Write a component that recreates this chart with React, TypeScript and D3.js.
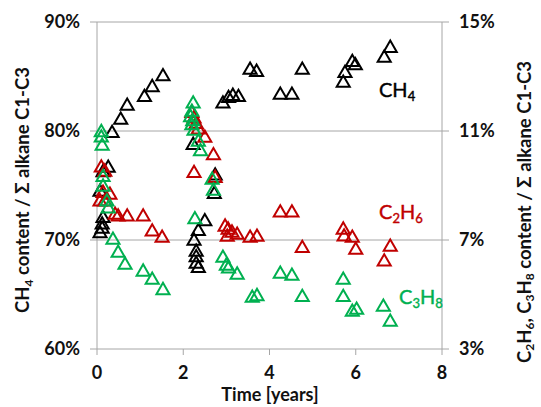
import React from "react";
import * as d3 from "d3";

// Time [years] and values (CH4 in % of left axis, C2H6/C3H8 in % of right axis)
const ch4Years = [0.26, 0.14, 0.07, 0.14, 0.12, 0.12, 0.07, 0.35, 0.55, 0.7, 1.1, 1.28, 1.53,
  2.23, 2.74, 2.72, 2.5, 2.35, 2.25, 2.3, 2.3, 2.3, 2.35,
  2.92, 3.05, 3.15, 3.28, 3.55, 3.7, 4.25, 4.52, 4.76, 5.71, 5.75, 5.92, 5.99, 6.66, 6.8];
const ch4Values = [76.6, 76.2, 74.4, 72.0, 71.4, 71.0, 70.6, 79.8, 81.0, 82.3, 83.1, 84.0, 85.0,
  78.7, 75.9, 74.2, 71.7, 70.8, 69.9, 68.9, 68.4, 67.8, 67.4,
  82.5, 83.0, 83.2, 83.1, 85.6, 85.4, 83.3, 83.3, 85.6, 84.4, 85.3, 86.3, 86.0, 86.7, 87.6];

const c2h6Years = [0.1, 0.18, 0.14, 0.3, 0.07, 0.18, 0.42, 0.49, 0.7, 1.07, 1.28, 1.51,
  2.2, 2.25, 2.3, 2.35, 2.5, 2.7, 2.25, 2.74,
  2.97, 3.04, 3.02, 3.13, 3.25, 3.55, 3.71, 4.25, 4.52, 4.76, 5.71, 5.73, 5.92, 6.0, 6.8, 6.66];
const c2h6Values = [9.65, 9.5, 8.72, 8.65, 8.4, 8.4, 7.92, 7.85, 7.85, 7.85, 7.3, 7.07,
  11.65, 11.45, 11.25, 11.05, 10.74, 10.1, 9.45, 9.27,
  7.48, 7.37, 7.11, 7.26, 7.18, 7.07, 7.11, 8.0, 8.0, 6.7, 7.37, 7.12, 7.07, 6.63, 6.74, 6.2];

const c3h8Years = [0.1, 0.1, 0.12, 0.14, 0.14, 0.23, 0.26, 0.37, 0.49, 0.65, 1.07, 1.28, 1.53,
  2.23, 2.2, 2.17, 2.22, 2.2, 2.25, 2.35, 2.4, 2.67, 2.7, 2.27,
  2.92, 3.0, 3.05, 3.25, 3.6, 3.71, 4.25, 4.52, 4.76, 5.71, 5.71, 5.92, 6.02, 6.64, 6.8];
const c3h8Values = [10.95, 10.75, 10.45, 9.3, 8.95, 8.4, 8.15, 7.0, 6.52, 6.08, 5.83, 5.53, 5.15,
  12.0, 11.7, 11.5, 11.35, 11.2, 11.0, 10.6, 10.25, 9.2, 8.8, 7.75,
  6.34, 6.05, 5.95, 5.72, 4.87, 4.93, 5.75, 5.68, 4.9, 5.53, 4.9, 4.36, 4.43, 4.54, 3.99];

const xTicks = [0, 2, 4, 6, 8];
const leftTicks = [60, 70, 80, 90];
const rightTicks = [3, 7, 11, 15];

const FONT = "Lato, 'Open Sans', sans-serif";

export default function App() {
  const L = 97, R = 442, T = 22, B = 349;
  const x = d3.scaleLinear().domain([0, 8]).range([L, R]);
  const yL = d3.scaleLinear().domain([60, 90]).range([B, T]);
  const yR = d3.scaleLinear().domain([3, 15]).range([B, T]);
  const tri = d3.symbol().type(d3.symbolTriangle).size(74)() as string;
  const axisColor = "#A6A6A6";
  const textColor = "#111111";

  const series = [
    { xs: ch4Years, ys: ch4Values, sc: yL, color: "#000000" },
    { xs: c2h6Years, ys: c2h6Values, sc: yR, color: "#C00000" },
    { xs: c3h8Years, ys: c3h8Values, sc: yR, color: "#00B050" },
  ];

  return (
    <svg width={541} height={407} style={{ position: "absolute", left: 0, top: 0, background: "#fff" }}
      fontFamily={FONT}>
      {/* gridlines */}
      {leftTicks.map((t) => (
        <line key={"g" + t} x1={L} x2={R} y1={yL(t)} y2={yL(t)} stroke={axisColor} strokeWidth={1} />
      ))}
      {/* axis lines */}
      <line x1={L} x2={L} y1={T} y2={B} stroke={axisColor} />
      <line x1={R} x2={R} y1={T} y2={B} stroke={axisColor} />
      {leftTicks.map((t) => (
        <line key={"lt" + t} x1={L - 7} x2={L} y1={yL(t)} y2={yL(t)} stroke={axisColor} />
      ))}
      {rightTicks.map((t) => (
        <line key={"rt" + t} x1={R} x2={R + 7} y1={yR(t)} y2={yR(t)} stroke={axisColor} />
      ))}
      {xTicks.map((t) => (
        <line key={"xt" + t} x1={x(t)} x2={x(t)} y1={B} y2={B + 6} stroke={axisColor} />
      ))}
      {/* tick labels */}
      {leftTicks.map((t) => (
        <text key={"ll" + t} x={80} y={yL(t)} dy="0.36em" textAnchor="end" fontSize={18} fontWeight="bold" fill={textColor}>{t}%</text>
      ))}
      {rightTicks.map((t) => (
        <text key={"rl" + t} x={459} y={yR(t)} dy="0.36em" textAnchor="start" fontSize={18} fontWeight="bold" fill={textColor}>{t}%</text>
      ))}
      {xTicks.map((t) => (
        <text key={"xl" + t} x={x(t)} y={379} textAnchor="middle" fontSize={18} fontWeight="bold" fill={textColor}>{t}</text>
      ))}
      <text x={270} y={401} textAnchor="middle" fontSize={18} fontWeight="bold" fill={textColor}>Time [years]</text>
      {/* axis titles */}
      <text transform="translate(29,190) rotate(-90)" textAnchor="middle" fontSize={18.5} fontWeight="bold" fill={textColor}>
        CH<tspan fontSize={12} dy={4}>4</tspan><tspan dy={-4}> content / Σ alkane C1-C3</tspan>
      </text>
      <text transform="translate(531,212) rotate(-90)" textAnchor="middle" fontSize={18.5} fontWeight="bold" fill={textColor}>
        C<tspan fontSize={12} dy={3}>2</tspan><tspan dy={-3}>H</tspan><tspan fontSize={12} dy={3}>6</tspan><tspan dy={-3}>, C</tspan><tspan fontSize={12} dy={3}>3</tspan><tspan dy={-3}>H</tspan><tspan fontSize={12} dy={3}>8</tspan><tspan dy={-3}> content / Σ alkane C1-C3</tspan>
      </text>
      {/* markers */}
      {series.map((s, si) =>
        s.xs.map((xv, i) => (
          <path key={si + "-" + i} d={tri} transform={`translate(${x(xv)},${s.sc(s.ys[i])})`}
            fill="none" stroke={s.color} strokeWidth={2} />
        ))
      )}
      {/* series labels */}
      <text x={379} y={97} fontSize={20} fill="#000" stroke="#000" strokeWidth={0.4}>CH<tspan fontSize={13} dy={4}>4</tspan></text>
      <text x={379} y={219} fontSize={20} fill="#C00000" stroke="#C00000" strokeWidth={0.4}>C<tspan fontSize={13} dy={4}>2</tspan><tspan dy={-4}>H</tspan><tspan fontSize={13} dy={4}>6</tspan></text>
      <text x={399} y={304} fontSize={20} fill="#00B050" stroke="#00B050" strokeWidth={0.4}>C<tspan fontSize={13} dy={4}>3</tspan><tspan dy={-4}>H</tspan><tspan fontSize={13} dy={4}>8</tspan></text>
    </svg>
  );
}
